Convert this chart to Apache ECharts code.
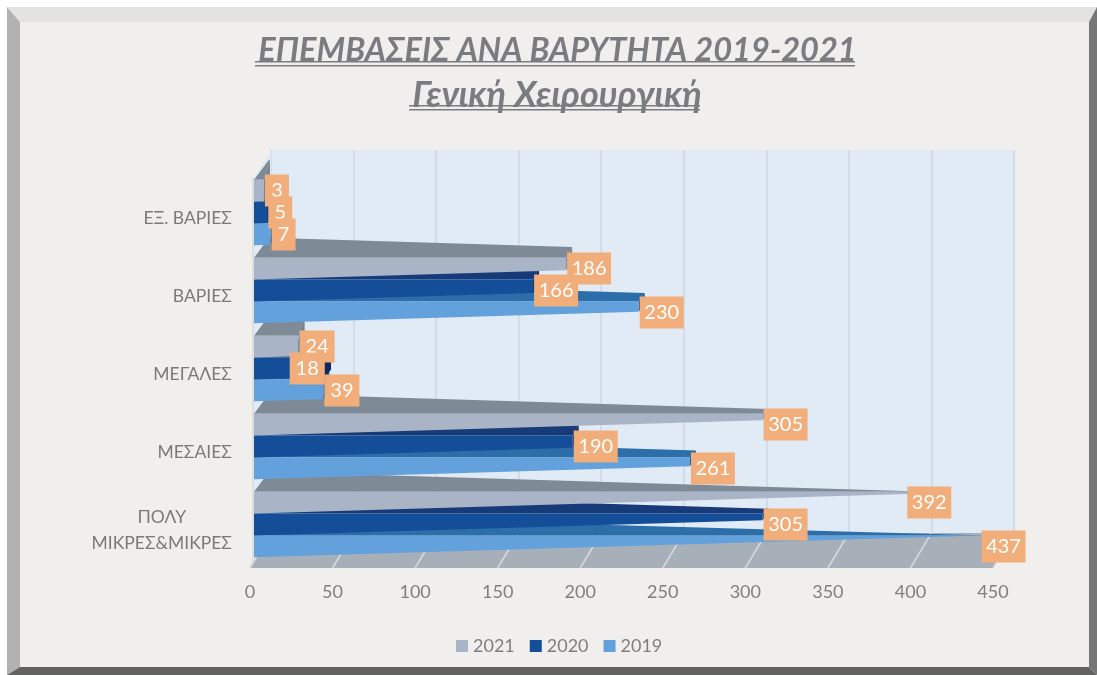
<!DOCTYPE html>
<html><head><meta charset="utf-8">
<style>html,body{margin:0;padding:0;background:#fff}#c{width:1097px;height:675px}</style>
<script src="https://cdn.jsdelivr.net/npm/echarts@6/dist/echarts.min.js"></script>
</head><body><div id="c"></div>
<script>
const categories = ['ΕΞ. ΒΑΡΙΕΣ','ΒΑΡΙΕΣ','ΜΕΓΑΛΕΣ','ΜΕΣΑΙΕΣ','ΠΟΛΎ\nΜΙΚΡΕΣ&ΜΙΚΡΕΣ'];
const years = ['2021','2020','2019'];
const values2021 = [3,186,24,305,392];
const values2020 = [5,166,18,190,305];
const values2019 = [7,230,39,261,437];
// In the reference the 2020 "ΜΕΓΑΛΕΣ" bar is drawn visibly longer than its label (18) says.
const drawn2020 = [5,166,40,190,305];
const ticks = [0,50,100,150,200,250,300,350,400,450];
const FONT = 'Lato, "Open Sans", sans-serif';
const faces = [
  {front:'#aab4c7', top:'#7f8a97', side:'#77828f'},
  {front:'#144e98', top:'#173b78', side:'#10285c'},
  {front:'#62a1dc', top:'#2b6ea9', side:'#1f5686'}
];
const depthX = 15, depthY = 20, tipDepthX = 6, taper = 0.03;

function barItem(seriesIdx){
  return function(params, api){
    const cat = api.value(0), bar = api.value(1), lab = api.value(2);
    const base = api.coord([0,cat]);
    const band = api.size([0,1])[1];
    const x0 = base[0]+4;
    const xt = api.coord([bar,cat])[0]+9;
    const cy = base[1]-5.5;
    const h = band*0.28;
    const top = cy-1.5*h+seriesIdx*h;
    const run = xt-x0;
    const fb = top+h-taper*run;
    const bt = Math.min(top-depthY+taper*run, top);
    const order = (4-cat)*10+(2-seriesIdx)+1;
    const c = faces[seriesIdx];
    const labelX = api.coord([lab,cat])[0]+10;
    const digits = String(lab).length;
    const w = digits===1?24:(digits===2?35:44);
    const ly = cy+(seriesIdx-1)*22;
    return {type:'group',children:[
      {type:'polygon',z2:order,shape:{points:[[x0,top],[x0+depthX,top-depthY],[xt+tipDepthX,bt],[xt,top]]},style:{fill:c.top}},
      {type:'polygon',z2:order,shape:{points:[[xt,top],[xt+tipDepthX,bt],[xt+tipDepthX,Math.max(bt,fb-8)],[xt,fb]]},style:{fill:c.side}},
      {type:'polygon',z2:order,shape:{points:[[x0,top],[xt,top],[xt,fb],[x0,top+h]]},style:{fill:c.front}},
      {type:'rect',z2:100+seriesIdx,shape:{x:labelX,y:ly-16,width:w,height:32},style:{fill:'#f2ae7a',stroke:null,lineWidth:0}},
      {type:'text',z2:101+seriesIdx,style:{x:labelX+w/2,y:ly,text:String(lab),fill:'#fff',stroke:null,lineWidth:0,font:'20px '+FONT,align:'center',verticalAlign:'middle'}}
    ]};
  };
}
const mk = (name,vals,bars,idx)=>({
  name,type:'custom',renderItem:barItem(idx),xAxisIndex:0,yAxisIndex:0,
  itemStyle:{color:faces[idx].front},clip:false,
  encode:{x:1,y:0},
  data:vals.map((v,i)=>[i,bars[i],v])
});
const floorItem=function(params,api){
  const v=api.value(0);
  const p=api.coord([v,4]);
  const yb=p[1]+38, xf=p[0], dx=21, dy=35;
  const kids=[{type:'line',z2:1,shape:{x1:xf,y1:yb,x2:xf+dx,y2:yb-dy},style:{stroke:'#d5dade',lineWidth:1.5}}];
  if(v===0){
    const xe=api.coord([450,4])[0];
    kids.unshift({type:'polygon',z2:0,shape:{points:[[xf,yb],[xe,yb],[xe+dx,yb-dy],[xf+dx,yb-dy]]},style:{fill:'#a7b0b9'}});
    kids.unshift({type:'polygon',z2:0,shape:{points:[[xf+4,yb-2],[xf+dx,yb-dy],[xf+dx,150],[xf+4,178]]},style:{fill:'#e1ebf6'}});
    kids.unshift({type:'line',z2:0,shape:{x1:xf+3,y1:yb,x2:xf+3,y2:178},style:{stroke:'#d9dadb',lineWidth:1.5}});
  }
  return {type:'group',children:kids};
};
const frame=[
  {type:'polygon',z:-10,shape:{points:[[7,7],[1097,7],[1089,22],[20,22]]},style:{fill:'#e3e3e1'}},
  {type:'polygon',z:-10,shape:{points:[[7,7],[20,22],[20,667],[7,675]]},style:{fill:'#b2b2b2'}},
  {type:'polygon',z:-10,shape:{points:[[1097,7],[1097,675],[1089,667],[1089,22]]},style:{fill:'#767776'}},
  {type:'polygon',z:-10,shape:{points:[[7,675],[20,667],[1089,667],[1097,675]]},style:{fill:'#636461'}},
  {type:'rect',z:-10,shape:{x:20,y:22,width:1069,height:645},style:{fill:'#f0efed'}}
];
const rule=(x,y,w)=>({type:'rect',z:10,shape:{x,y,width:w,height:1.6},style:{fill:'#7b7c80'}});
const chart=echarts.init(document.getElementById('c'),null,{renderer:'canvas'});
chart.setOption({
  animation:false,
  backgroundColor:'#fff',
  textStyle:{fontFamily:FONT},
  title:[
    {text:'ΕΠΕΜΒΑΣΕΙΣ ΑΝΑ ΒΑΡΥΤΗΤΑ 2019-2021',left:552.5,top:29,textAlign:'center',textStyle:{fontFamily:FONT,fontStyle:'italic',fontWeight:'bold',fontSize:32.6,color:'#7b7c80'}},
    {text:'Γενική Χειρουργική',left:552,top:72,textAlign:'center',textStyle:{fontFamily:FONT,fontStyle:'italic',fontWeight:'bold',fontSize:36,color:'#7b7c80'}}
  ],
  graphic:[...frame,rule(255,61,600),rule(255,65,600),rule(409,105,291),rule(409,109,291)],
  legend:{data:years,top:632,itemWidth:12,itemHeight:12,itemGap:15,icon:'rect',left:451,
    textStyle:{color:'#7f7f7f',fontSize:18,fontFamily:FONT}},
  grid:[
    {left:250,width:743,top:179,height:390,containLabel:false},
    {left:271,width:743,top:150,height:383,show:true,backgroundColor:'#e1ebf6',borderWidth:0}
  ],
  xAxis:[
    {type:'value',gridIndex:0,min:0,max:450,interval:50,axisLine:{show:false},axisTick:{show:false},splitLine:{show:false},
      axisLabel:{color:'#7f7f7f',fontSize:18,margin:14,fontFamily:FONT}},
    {type:'value',gridIndex:1,min:0,max:450,interval:50,axisLine:{show:false},axisTick:{show:false},axisLabel:{show:false},
      splitLine:{show:true,lineStyle:{color:'#d3dbe8',width:2}}}
  ],
  yAxis:[
    {type:'category',gridIndex:0,inverse:true,data:categories,axisLine:{show:false},axisTick:{show:false},splitLine:{show:false},
      axisLabel:{color:'#7a7a7a',margin:18,fontFamily:FONT,fontSize:17.5,lineHeight:26,
        formatter:v=>v.split('\n').map(s=>'{c|'+s+'}').join('\n'),
        rich:{c:{align:'center',color:'#7a7a7a',fontSize:17.5,lineHeight:26,fontFamily:FONT}}}},
    {type:'category',gridIndex:1,show:false,data:categories}
  ],
  series:[
    {type:'custom',name:'floor',silent:true,renderItem:floorItem,xAxisIndex:0,yAxisIndex:0,clip:false,encode:{x:0},z:1,data:ticks.map(t=>[t])},
    mk('2021',values2021,values2021,0),
    mk('2020',values2020,drawn2020,1),
    mk('2019',values2019,values2019,2)
  ]
});
</script></body></html>
